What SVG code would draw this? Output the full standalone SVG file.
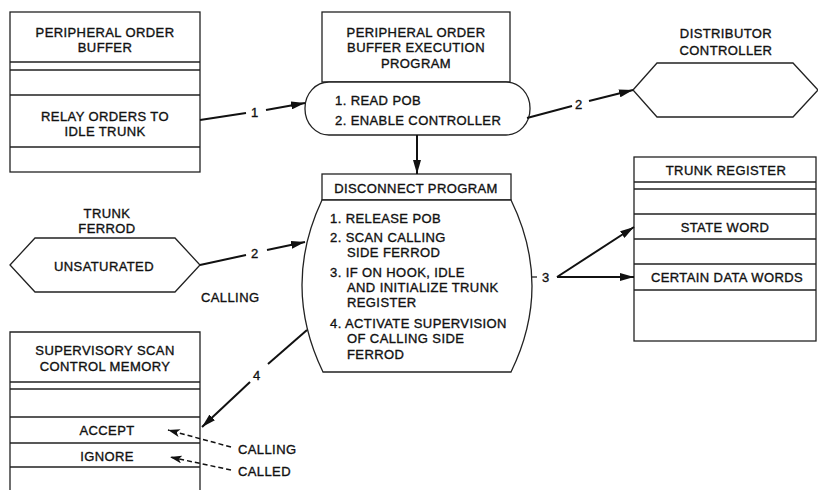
<svg xmlns="http://www.w3.org/2000/svg" width="818" height="490" viewBox="0 0 818 490">
<style>
.b{fill:#fff;stroke:#222;stroke-width:1.3}
.l{stroke:#222;stroke-width:1.3;fill:none}
.c{stroke:#111;stroke-width:2;fill:none}
.d{stroke:#111;stroke-width:1.5;fill:none;stroke-dasharray:5 3}
text{font-family:"Liberation Sans",Arial,sans-serif;font-size:13px;fill:#111;stroke:#111;stroke-width:0.35;letter-spacing:0.4px}
.m{text-anchor:middle}
</style>
<defs>
<marker id="ah" viewBox="0 0 14 8" refX="14" refY="4" markerWidth="14" markerHeight="8" markerUnits="userSpaceOnUse" orient="auto"><path d="M0,0 L14,4 L0,8 Z" fill="#111"/></marker>
<marker id="ahs" viewBox="0 0 12 8" refX="12" refY="4" markerWidth="12" markerHeight="8" markerUnits="userSpaceOnUse" orient="auto"><path d="M0,0 L12,4 L0,8 L3,4 Z" fill="#111"/></marker>
</defs>
<g id="pob">
<rect class="b" x="10" y="12" width="190" height="160"/>
<path class="l" d="M10,62H200M10,70H200M10,95H200M10,147H200"/>
<text class="m" x="105" y="37">PERIPHERAL ORDER</text>
<text class="m" x="105" y="52">BUFFER</text>
<text class="m" x="105" y="121">RELAY ORDERS TO</text>
<text class="m" x="105" y="136">IDLE TRUNK</text>
</g>
<g id="pobexec">
<rect class="b" x="322" y="12" width="188" height="70"/>
<text class="m" x="416" y="37">PERIPHERAL ORDER</text>
<text class="m" x="416" y="52">BUFFER EXECUTION</text>
<text class="m" x="416" y="68">PROGRAM</text>
<rect class="b" x="305" y="82" width="225" height="53" rx="24" ry="26"/>
<text x="335" y="105">1.  READ POB</text>
<text x="335" y="125">2.  ENABLE CONTROLLER</text>
</g>
<g id="distributor">
<polygon class="b" points="633,90 657,63 793,63 818,90 793,117 657,117"/>
<text class="m" x="726" y="38">DISTRIBUTOR</text>
<text class="m" x="726" y="55">CONTROLLER</text>
</g>
<g id="trunkreg">
<rect class="b" x="634" y="157" width="182" height="184"/>
<path class="l" d="M634,182H816M634,189H816M634,214H816M634,239H816M634,264H816M634,290H816"/>
<text class="m" x="726" y="175">TRUNK REGISTER</text>
<text class="m" x="725" y="232">STATE WORD</text>
<text class="m" x="727" y="282">CERTAIN DATA WORDS</text>
</g>
<g id="ferrod">
<polygon class="b" points="10,265 35,238 175,238 200,265 175,292 35,292"/>
<text class="m" x="107" y="218">TRUNK</text>
<text class="m" x="107" y="233">FERROD</text>
<text class="m" x="104" y="271">UNSATURATED</text>
<text x="201" y="302">CALLING</text>
</g>
<g id="disconnect">
<rect class="b" x="322" y="174" width="189" height="26"/>
<text class="m" x="416" y="193">DISCONNECT PROGRAM</text>
<path class="b" d="M322,200 Q281.5,286 323,372 L511,372 Q553,286 511,200 Z"/>
<text x="330" y="223">1.  RELEASE POB</text>
<text x="330" y="242">2.  SCAN CALLING</text>
<text x="347" y="257">SIDE FERROD</text>
<text x="330" y="277">3.  IF ON HOOK, IDLE</text>
<text x="347" y="292">AND INITIALIZE TRUNK</text>
<text x="347" y="307">REGISTER</text>
<text x="330" y="328">4.  ACTIVATE SUPERVISION</text>
<text x="347" y="343">OF CALLING SIDE</text>
<text x="347" y="359">FERROD</text>
</g>
<g id="supervisory">
<path class="b" d="M10,490V332H200V490"/>
<path class="l" d="M10,382H200M10,389H200M10,417H200M10,443H200M10,467H200"/>
<text class="m" x="105" y="355">SUPERVISORY SCAN</text>
<text class="m" x="105" y="371">CONTROL MEMORY</text>
<text class="m" x="107" y="435">ACCEPT</text>
<text class="m" x="107" y="461">IGNORE</text>
<text x="238" y="454">CALLING</text>
<text x="238" y="476">CALLED</text>
</g>
<g id="connectors">
<path class="c" d="M200,120L246,113"/>
<path class="c" d="M266,110L305,103" marker-end="url(#ah)"/>
<text x="251" y="117">1</text>
<path class="c" d="M527,118L572,106"/>
<path class="c" d="M589,101L633,90" marker-end="url(#ah)"/>
<text x="575" y="109">2</text>
<path class="c" d="M417,135V174" marker-end="url(#ah)"/>
<path class="c" d="M200,265L246,255"/>
<path class="c" d="M267,250L305,242" marker-end="url(#ah)"/>
<text x="251" y="258">2</text>
<path class="l" d="M531,277H537"/>
<text x="542" y="282">3</text>
<path class="c" d="M557,277L634,227" marker-end="url(#ah)"/>
<path class="c" d="M557,277H634" marker-end="url(#ah)"/>
<path class="c" d="M307,330L268,364"/>
<path class="c" d="M250,382L202,427" marker-end="url(#ah)"/>
<text x="253" y="380">4</text>
<path class="d" d="M231,447L168,430" marker-end="url(#ahs)"/>
<path class="d" d="M231,470L170,457" marker-end="url(#ahs)"/>
</g>
</svg>
